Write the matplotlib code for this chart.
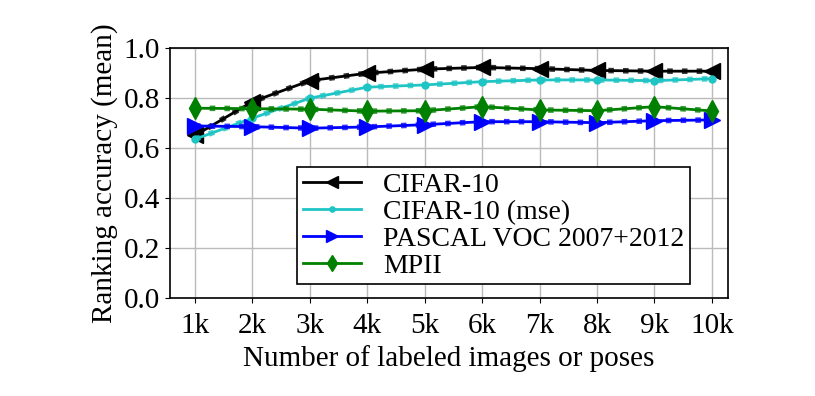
import matplotlib
matplotlib.use("Agg")
import matplotlib.pyplot as plt

x_labels = ["1k", "2k", "3k", "4k", "5k", "6k", "7k", "8k", "9k", "10k"]
x_vals = [1, 2, 3, 4, 5, 6, 7, 8, 9, 10]
cifar = [0.650, 0.785, 0.869, 0.899, 0.915, 0.922, 0.917, 0.910, 0.907, 0.907]
cifar_mse = [0.635, 0.719, 0.799, 0.843, 0.852, 0.865, 0.872, 0.872, 0.869, 0.877]
pascal = [0.688, 0.685, 0.679, 0.684, 0.693, 0.705, 0.705, 0.701, 0.709, 0.712]
mpii = [0.759, 0.757, 0.755, 0.747, 0.749, 0.765, 0.752, 0.749, 0.765, 0.748]

plt.rcParams['font.family'] = ['Liberation Serif', 'DejaVu Serif']
plt.rcParams['font.size'] = 21

fig = plt.figure(figsize=(8.15, 3.96), dpi=100)
ax = fig.add_axes([0.2086, 0.2475, 0.6845, 0.6315])

series = [(cifar, 'black', '<', 11, 'CIFAR-10'),
          (cifar_mse, '#1fc4c4', '.', 10, 'CIFAR-10 (mse)'),
          (pascal, 'blue', '>', 11, 'PASCAL VOC 2007+2012'),
          (mpii, 'green', 'd', 11, 'MPII')]
for vals, col, mk, ms, lab in series:
    ax.plot(x_vals, vals, color=col, ls=':', lw=4, alpha=0.8)
    ax.plot(x_vals, vals, color=col, marker=mk, markersize=ms, lw=2, label=lab)

ax.set_xlim(0.565, 10.28)
ax.set_ylim(0, 1.0)
ax.set_xticks(x_vals)
ax.set_xticklabels(x_labels)
ax.set_yticks([0.0, 0.2, 0.4, 0.6, 0.8, 1.0])
ax.set_yticklabels(["0.0", "0.2", "0.4", "0.6", "0.8", "1.0"])
ax.tick_params(axis='x', pad=7)
ax.grid(True, color='#bbbbbb', lw=1)
ax.set_axisbelow(True)
ax.set_xlabel("Number of labeled images or poses", labelpad=5)
ax.set_ylabel("Ranking accuracy (mean)", labelpad=4)
for s in ax.spines.values():
    s.set_linewidth(1.2)

leg = ax.legend(loc='lower left', bbox_to_anchor=(0.228, 0.055), frameon=True, fancybox=False,
                edgecolor='black', framealpha=1, borderpad=0.2, labelspacing=0.05,
                handlelength=2.1, handletextpad=0.8, markerscale=0.75, borderaxespad=0,
                fontsize=20)
leg.get_frame().set_linewidth(1.2)

fig.savefig("out.png", dpi=100)
